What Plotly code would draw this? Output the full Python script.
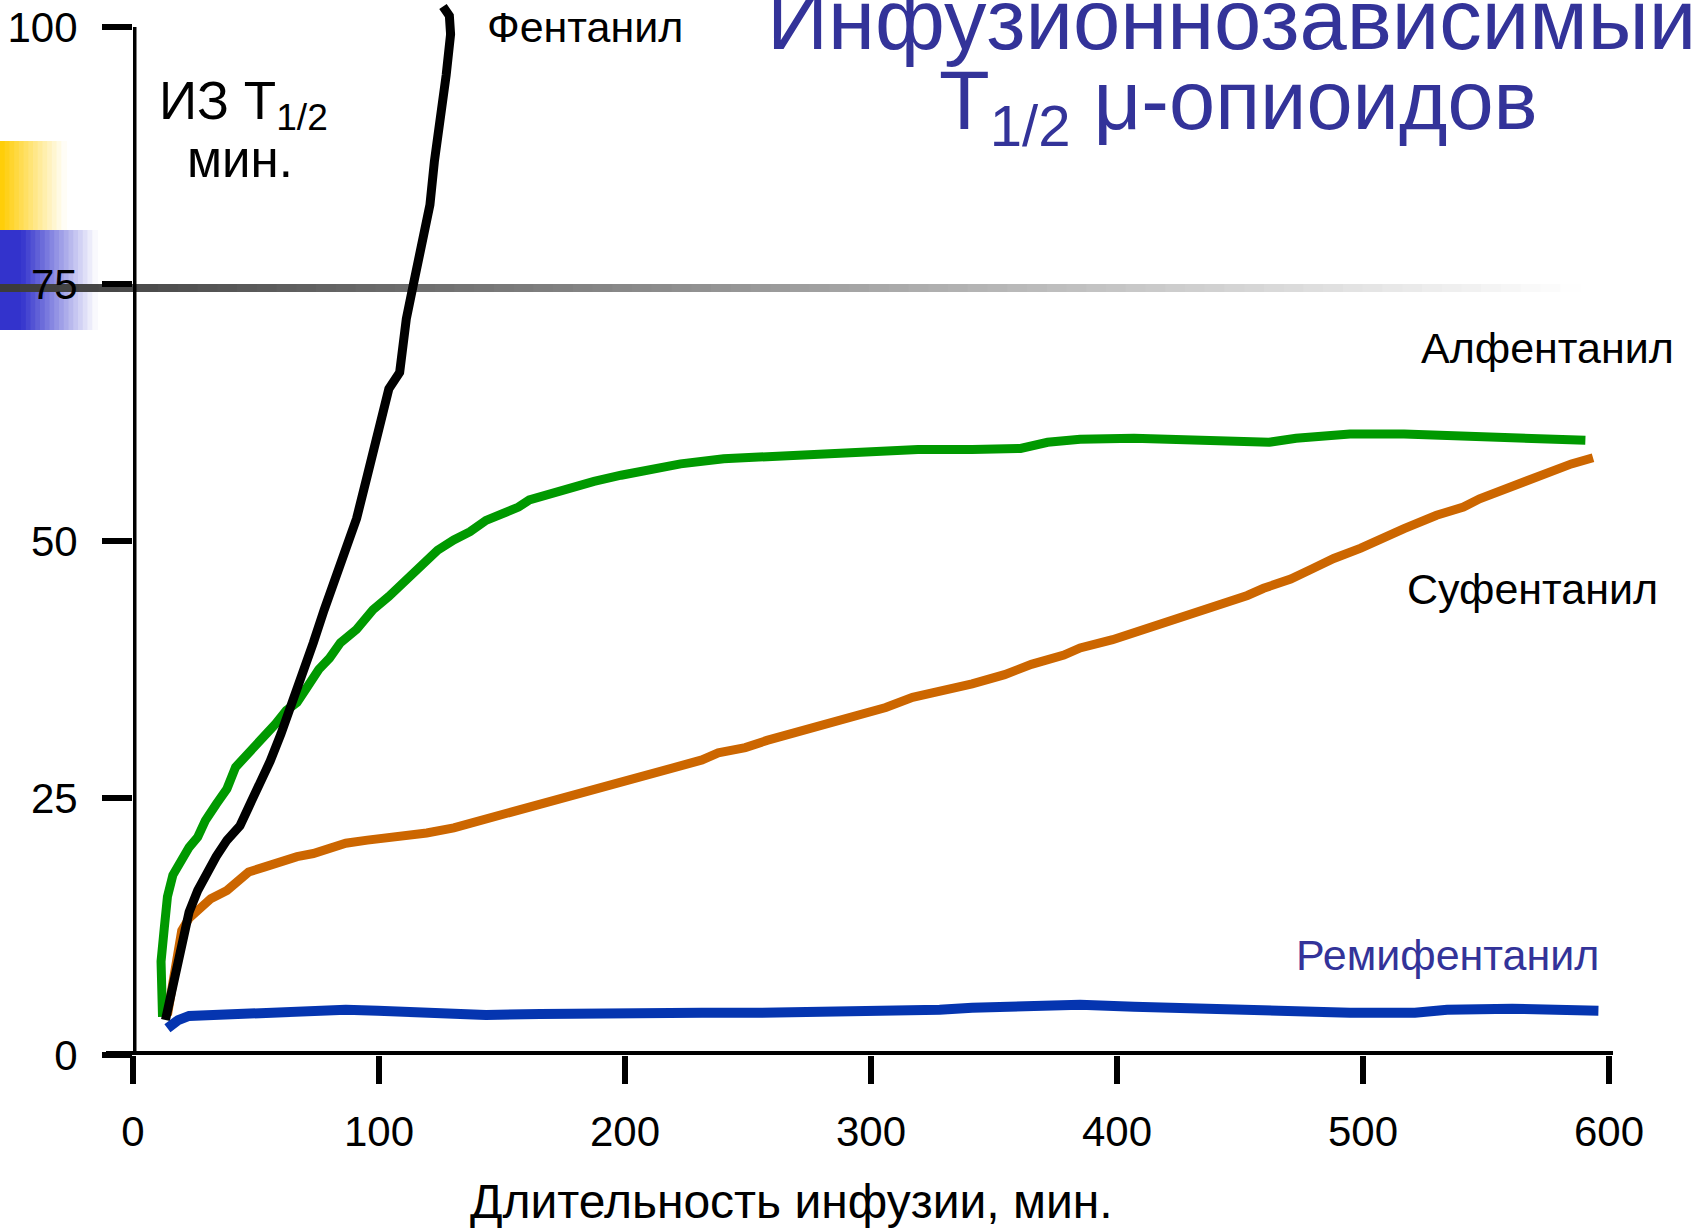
import plotly.graph_objects as go

# ---------------- data ----------------
fent_x = [13.2, 15.4, 17.6, 19.8, 22.8, 26.3, 29.4, 33.8, 38.2, 43.5, 47.0, 51.4, 55.8, 60.1,
          64.5, 68.9, 73.3, 77.7, 82.1, 86.5, 90.9, 95.3, 99.6, 104.0, 108.4, 111.1, 114.1,
          116.3, 118.5, 120.7, 122.5, 125.1, 127.3, 129.1, 128.6, 126.0]
fent_y = [3.4, 6.0, 8.8, 11.2, 13.9, 16.0, 17.5, 19.3, 20.9, 22.3, 24.1, 26.2, 28.6, 31.2,
          34.0, 37.0, 40.1, 43.3, 46.4, 49.1, 52.2, 56.4, 60.9, 64.8, 66.4, 71.6, 75.1,
          77.9, 80.6, 82.7, 86.9, 91.1, 95.3, 99.3, 101.1, 102.0]

alf_x = [12.0, 11.4, 12.7, 14.0, 16.2, 19.8, 22.8, 26.3, 29.4, 33.8, 38.2, 41.7, 46.1, 49.6,
         53.6, 57.9, 62.3, 66.7, 71.1, 75.5, 79.9, 84.3, 90.9, 97.5, 104.0, 110.6, 117.2,
         123.8, 130.4, 137.0, 143.5, 150.1, 156.7, 161.1, 169.9, 178.7, 187.4, 198.4, 209.4,
         222.6, 240.1, 262.1, 275.2, 297.2, 319.1, 341.1, 360.8, 371.8, 385.0, 406.9, 428.9,
         446.4, 461.8, 472.8, 494.7, 516.7, 538.6, 560.6, 578.1, 590.4]
alf_y = [3.7, 9.1, 12.3, 15.4, 17.5, 19.1, 20.2, 21.2, 22.8, 24.4, 25.9, 28.0, 29.1, 30.1,
         31.2, 32.2, 33.5, 34.3, 35.9, 37.5, 38.6, 40.1, 41.4, 43.3, 44.6, 46.2, 47.8,
         49.1, 50.1, 50.9, 52.0, 52.6, 53.3, 54.0, 54.6, 55.3, 55.8, 56.4, 56.9,
         57.5, 58.0, 58.3, 58.4, 58.7, 58.9, 58.9, 59.0, 59.6, 59.9, 60.0, 59.9,
         59.7, 59.6, 60.0, 60.4, 60.4, 60.2, 60.0, 59.8, 59.8]

suf_x = [14.0, 16.2, 17.6, 19.8, 22.8, 27.2, 31.6, 38.2, 42.6, 47.0, 53.6, 60.1, 66.7, 73.3,
         79.9, 86.5, 95.3, 104.0, 110.6, 119.4, 130.4, 141.4, 152.3, 163.3, 174.3, 183.1,
         191.8, 205.0, 218.2, 231.3, 237.9, 248.9, 257.7, 270.9, 284.0, 297.2, 306.0, 316.9,
         327.9, 341.1, 354.3, 365.2, 378.4, 385.0, 398.2, 411.3, 417.9, 428.9, 446.4, 453.0,
         459.6, 470.6, 479.4, 488.1, 499.1, 505.7, 516.7, 529.9, 540.8, 547.4, 556.2, 565.0,
         573.8, 584.7, 593.5]
suf_y = [3.9, 7.0, 10.2, 12.1, 13.3, 14.4, 15.2, 16.0, 17.0, 17.8, 18.3, 18.9, 19.3, 19.6,
         20.1, 20.6, 20.9, 21.1, 21.4, 21.6, 22.1, 22.8, 23.5, 24.4, 25.1, 25.5,
         26.2, 27.0, 27.8, 28.7, 29.4, 29.9, 30.6, 31.5, 32.4, 33.2, 33.8, 34.8,
         35.3, 36.1, 37.0, 38.0, 38.9, 39.6, 40.4, 41.4, 42.0, 42.9, 44.1, 44.7,
         45.4, 46.3, 47.3, 48.3, 49.3, 50.1, 51.2, 52.5, 53.3, 54.1, 54.9, 55.8,
         56.7, 57.5, 58.1]

remi_x = [14.0, 18.4, 22.8, 33.8, 60.1, 73.3, 86.5, 99.6, 121.6, 143.5, 165.5, 187.4, 231.3,
          253.3, 297.2, 327.9, 341.1, 363.1, 385.0, 406.9, 428.9, 455.2, 472.8, 494.7, 521.1,
          534.2, 560.6, 595.7]
remi_y = [2.6, 3.4, 3.8, 3.9, 4.2, 4.4, 4.4, 4.3, 4.1, 3.9, 4.0, 4.1, 4.1,
          4.1, 4.2, 4.4, 4.6, 4.8, 4.9, 4.7, 4.5, 4.3, 4.1, 4.1, 4.1,
          4.4, 4.5, 4.3]

x_ticks = [0, 100, 200, 300, 400, 500, 600]
y_ticks = [0, 25, 50, 75, 100]

labels = ["Фентанил", "Алфентанил", "Суфентанил", "Ремифентанил"]
label_x = [143.0, 522.8, 517.1, 471.8]
label_y = [100.0, 68.8, 45.3, 9.7]

# ---------------- geometry ----------------
W, H = 1693, 1230
L, R, T, B = 133, 84, 0, 175
PW, PH = W - L - R, H - T - B
FONT = "Liberation Sans, Arial, sans-serif"
NAVY = "#333399"


def px(xp):
    return (xp - L) / PW


def py(yp):
    return (H - B - yp) / PH


def lerp(c0, c1, t):
    return "rgb(%d,%d,%d)" % tuple(round(a + (b - a) * t) for a, b in zip(c0, c1))


shapes = []


def hgrad(x0, x1, y0, y1, c0, c1, n):
    step = (x1 - x0) / n
    for i in range(n):
        t = (i + 0.5) / n
        shapes.append(dict(type="rect", xref="paper", yref="paper", layer="below",
                           x0=px(x0 + i * step), x1=px(x0 + (i + 1) * step + 1.0),
                           y0=py(y1), y1=py(y0), line=dict(width=0),
                           fillcolor=lerp(c0, c1, t)))


WHITE = (255, 255, 255)
# slide decorations
hgrad(0, 66, 141, 230, (255, 204, 0), WHITE, 14)
shapes.append(dict(type="rect", xref="paper", yref="paper", layer="below",
                   x0=px(0), x1=px(22), y0=py(330), y1=py(230), line=dict(width=0),
                   fillcolor="rgb(51,51,204)"))
hgrad(21, 97, 230, 330, (51, 51, 204), WHITE, 16)
hgrad(0, 1580, 284, 292, (58, 58, 58), WHITE, 80)

# axis lines
shapes.append(dict(type="line", xref="paper", yref="y", x0=px(106), x1=px(1613), y0=0, y1=0,
                   line=dict(color="black", width=8)))
shapes.append(dict(type="line", xref="x", yref="y", x0=0, x1=0, y0=0, y1=100,
                   line=dict(color="black", width=7)))

fig = go.Figure()
LW = 9
fig.add_trace(go.Scatter(x=suf_x, y=suf_y, mode="lines", line=dict(color="#CC6600", width=LW),
                         name="Суфентанил"))
fig.add_trace(go.Scatter(x=alf_x, y=alf_y, mode="lines", line=dict(color="#009900", width=LW),
                         name="Алфентанил"))
fig.add_trace(go.Scatter(x=fent_x, y=fent_y, mode="lines", line=dict(color="black", width=LW),
                         name="Фентанил"))
fig.add_trace(go.Scatter(x=remi_x, y=remi_y, mode="lines", line=dict(color="#0535B0", width=LW + 1),
                         name="Ремифентанил"))

annotations = []
colors = ["black", "black", "black", NAVY]
for t, xv, yv, c in zip(labels, label_x, label_y, colors):
    annotations.append(dict(text=t, x=xv, y=yv, xref="x", yref="y", xanchor="left", yanchor="middle",
                            showarrow=False, font=dict(family=FONT, size=43, color=c)))

# y-axis caption
annotations.append(dict(text="ИЗ T<sub>1/2</sub>", x=px(157), y=py(104), xref="paper", yref="paper",
                        xanchor="left", yanchor="middle", showarrow=False,
                        font=dict(family=FONT, size=53, color="black")))
annotations.append(dict(text="мин.", x=px(240), y=py(159), xref="paper", yref="paper",
                        xanchor="center", yanchor="middle", showarrow=False,
                        font=dict(family=FONT, size=51, color="black")))
# x-axis caption
annotations.append(dict(text="Длительность инфузии, мин.", x=px(791), y=py(1201),
                        xref="paper", yref="paper", xanchor="center", yanchor="middle",
                        showarrow=False, font=dict(family=FONT, size=48, color="black")))
# title
annotations.append(dict(text="Инфузионнозависимый", x=px(1231), y=py(20), xref="paper",
                        yref="paper", xanchor="center", yanchor="middle", showarrow=False,
                        font=dict(family=FONT, size=85, color=NAVY)))
annotations.append(dict(text="T<sub>1/2</sub> μ-опиоидов", x=px(1238), y=py(106), xref="paper",
                        yref="paper", xanchor="center", yanchor="middle", showarrow=False,
                        font=dict(family=FONT, size=83, color=NAVY)))

fig.update_layout(
    width=W, height=H,
    margin=dict(l=L, r=R, t=T, b=B, pad=0),
    paper_bgcolor="white", plot_bgcolor="white",
    showlegend=False,
    shapes=shapes, annotations=annotations,
    font=dict(family=FONT, color="black"),
    xaxis=dict(range=[0, 600], tickvals=x_ticks, ticktext=[str(v) for v in x_ticks],
               ticks="outside", ticklen=28, tickwidth=6, tickcolor="black",
               showline=False, showgrid=False, zeroline=False,
               tickfont=dict(family=FONT, size=42, color="black"), ticklabelstandoff=12),
    yaxis=dict(range=[0, (H - B - T) / 10.28], tickvals=y_ticks, ticktext=[str(v) for v in y_ticks],
               ticks="outside", ticklen=30, tickwidth=6, tickcolor="black",
               showline=False, showgrid=False, zeroline=False,
               tickfont=dict(family=FONT, size=42, color="black"), ticklabelstandoff=16),
)

# the page body has a default 8px margin; remove it so the figure sits at the window origin
fig.write_html("out.html", config={"displayModeBar": False},
               post_script="document.body.style.margin='0px';")
